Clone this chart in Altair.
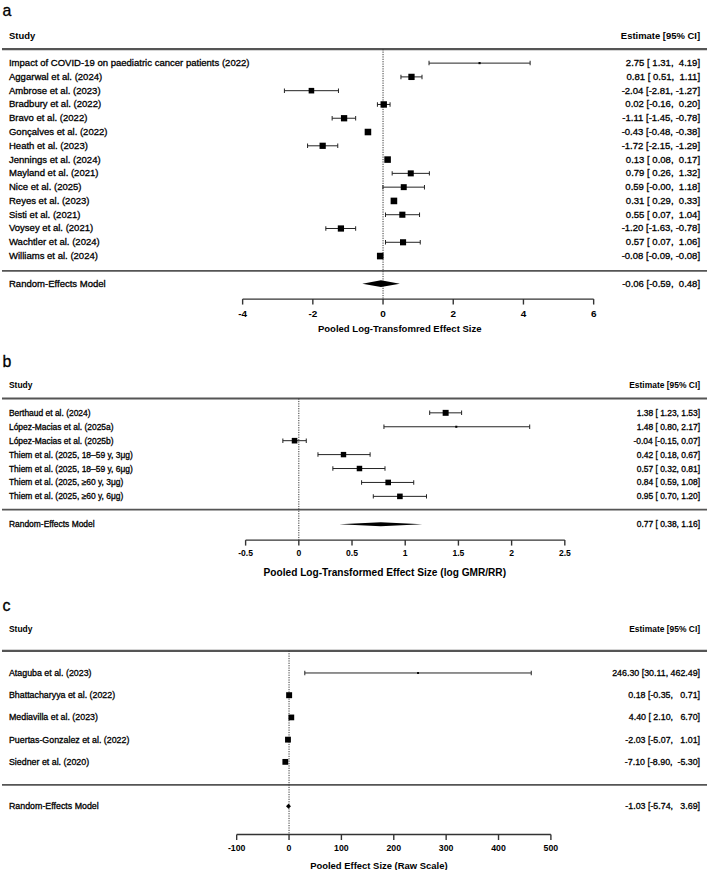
import altair as alt
import pandas as pd

FONT = "Liberation Sans"
INK = "#000000"
LINE = "#555555"
W = 709

# ---------------- panel a ----------------
a_names = [
    "Impact of COVID-19 on paediatric cancer patients (2022)",
    "Aggarwal et al. (2024)",
    "Ambrose et al. (2023)",
    "Bradbury et al. (2022)",
    "Bravo et al. (2022)",
    "Gonçalves et al. (2022)",
    "Heath et al. (2023)",
    "Jennings et al. (2024)",
    "Mayland et al. (2021)",
    "Nice et al. (2025)",
    "Reyes et al. (2023)",
    "Sisti et al. (2021)",
    "Voysey et al. (2021)",
    "Wachtler et al. (2024)",
    "Williams et al. (2024)",
]
a_est = [2.75, 0.81, -2.04, 0.02, -1.11, -0.43, -1.72, 0.13, 0.79, 0.59, 0.31, 0.55, -1.20, 0.57, -0.08]
a_lo = [1.31, 0.51, -2.81, -0.16, -1.45, -0.48, -2.15, 0.08, 0.26, -0.004, 0.29, 0.07, -1.63, 0.07, -0.09]
a_hi = [4.19, 1.11, -1.27, 0.20, -0.78, -0.38, -1.29, 0.17, 1.32, 1.18, 0.33, 1.04, -0.78, 1.06, -0.08]
a_weight = [0.8, 7.0, 5.5, 7.3, 7.0, 7.6, 6.9, 7.6, 6.4, 6.3, 7.7, 6.6, 6.9, 6.6, 7.7]
a_pooled = [-0.06, -0.59, 0.48]
a_ticks = [-4, -2, 0, 2, 4, 6]
a_tick_text = ["-4", "-2", "0", "2", "4", "6"]
a_xlab = "Pooled Log-Transfomred Effect Size"

# ---------------- panel b ----------------
b_names = [
    "Berthaud et al. (2024)",
    "López-Macias et al. (2025a)",
    "López-Macias et al. (2025b)",
    "Thiem et al. (2025, 18–59 y, 3μg)",
    "Thiem et al. (2025, 18–59 y, 6μg)",
    "Thiem et al. (2025, ≥60 y, 3μg)",
    "Thiem et al. (2025, ≥60 y, 6μg)",
]
b_est = [1.38, 1.48, -0.04, 0.42, 0.57, 0.84, 0.95]
b_lo = [1.23, 0.80, -0.15, 0.18, 0.32, 0.59, 0.70]
b_hi = [1.53, 2.17, 0.07, 0.67, 0.81, 1.08, 1.20]
b_weight = [16.5, 2.0, 14.5, 13.5, 14.0, 14.5, 14.5]
b_pooled = [0.77, 0.38, 1.16]
b_ticks = [-0.5, 0, 0.5, 1, 1.5, 2, 2.5]
b_tick_text = ["-0.5", "0", "0.5", "1", "1.5", "2", "2.5"]
b_xlab = "Pooled Log-Transformed Effect Size (log GMR/RR)"

# ---------------- panel c ----------------
c_names = [
    "Ataguba et al. (2023)",
    "Bhattacharyya et al. (2022)",
    "Mediavilla et al. (2023)",
    "Puertas-Gonzalez et al. (2022)",
    "Siedner et al. (2020)",
]
c_est = [246.30, 0.18, 4.40, -2.03, -7.10]
c_lo = [30.11, -0.35, 2.10, -5.07, -8.90]
c_hi = [462.49, 0.71, 6.70, 1.01, -5.30]
c_weight = [2.5, 26.0, 24.0, 25.0, 24.7]
c_pooled = [-1.03, -5.74, 3.69]
c_ticks = [-100, 0, 100, 200, 300, 400, 500]
c_tick_text = ["-100", "0", "100", "200", "300", "400", "500"]
c_xlab = "Pooled Effect Size (Raw Scale)"


def ci_labels(est, lo, hi):
    """Estimate [lower, upper] strings with padded bound columns."""
    wl = max(len(f"{v:.2f}") for v in lo)
    wh = max(len(f"{v:.2f}") for v in hi)
    out = []
    for e, l, h in zip(est, lo, hi):
        s = f"{e:.2f} [{l:>{wl}.2f}, {h:>{wh}.2f}]"
        out.append(s.replace(" ", "\u00a0"))
    return out


def one_row():
    return pd.DataFrame({"k": [0]})


def panel(tag, names, est, lo, hi, weight, pooled, ticks, tick_text, xlab, L):
    n = len(names)
    xs = alt.Scale(domain=[ticks[0], ticks[-1]], range=L["xr"], nice=False, zero=False)
    ys = alt.Scale(domain=[0, n - 1],
                   range=[L["row0"], L["row0"] + (n - 1) * L["step"]],
                   nice=False, zero=False)
    Y = alt.Y("row:Q", scale=ys, axis=None)

    all_est = est + [pooled[0]]
    all_lo = lo + [pooled[1]]
    all_hi = hi + [pooled[2]]
    labels = ci_labels(all_est, all_lo, all_hi)

    studies = pd.DataFrame({"name": names, "est": est, "lo": lo, "hi": hi,
                            "w": weight, "row": list(range(n))})
    text_rows = pd.DataFrame({"name": names + ["Random-Effects Model"],
                              "label": labels,
                              "row": list(range(n)) + [n + 1]})

    plain = dict(font=FONT, color=INK, stroke=INK, strokeWidth=0.3)
    bold = dict(font=FONT, color=INK, fontWeight="bold")

    layers = []
    # panel letter and column headers
    layers.append(alt.Chart(one_row()).mark_text(
        text=tag, fontSize=16, align="left", baseline="alphabetic", **plain
    ).encode(x=alt.value(0.5), y=alt.value(L["tag_y"])))
    layers.append(alt.Chart(one_row()).mark_text(
        text="Study", fontSize=L["hfs"], align="left", baseline="middle", **bold
    ).encode(x=alt.value(7), y=alt.value(L["head_y"])))
    layers.append(alt.Chart(one_row()).mark_text(
        text="Estimate [95% CI]", fontSize=L["hfs"], align="right", baseline="middle", **bold
    ).encode(x=alt.value(702), y=alt.value(L["head_y"])))

    # horizontal separators
    for yy, sw in ((L["top_line"], 2.2), (L["sep"], 1.8)):
        layers.append(alt.Chart(one_row()).mark_rule(color=LINE, strokeWidth=sw).encode(
            x=alt.value(0), x2=alt.value(W), y=alt.value(yy)))

    # reference line at zero
    layers.append(alt.Chart(pd.DataFrame({"v": [0]})).mark_rule(
        color="#333333", strokeWidth=1, strokeDash=[1.2, 1.2]
    ).encode(x=alt.X("v:Q", scale=xs, axis=None),
             y=alt.value(L["top_line"]), y2=alt.value(L["axis"])))

    # confidence intervals with end caps
    base = alt.Chart(studies)
    layers.append(base.mark_rule(color="#222222", strokeWidth=1).encode(
        x=alt.X("lo:Q", scale=xs, axis=None), x2="hi:Q", y=Y))
    for f in ("lo", "hi"):
        layers.append(base.mark_tick(orient="vertical", size=4.5, thickness=1,
                                     color="#222222", opacity=1).encode(
            x=alt.X(f"{f}:Q", scale=xs, axis=None), y=Y))

    # study estimates, square area follows the weight
    layers.append(base.mark_square(color=INK, opacity=1).encode(
        x=alt.X("est:Q", scale=xs, axis=None), y=Y,
        size=alt.Size("w:Q", scale=alt.Scale(domain=[0, max(weight)], range=[0, L["smax"]]),
                      legend=None)))

    # pooled estimate diamond
    h = L["dh"] / L["step"]
    r = n + 1
    diamond = pd.DataFrame({"x": [pooled[1], pooled[0], pooled[2]],
                            "y1": [r, r - h, r], "y2": [r, r + h, r]})
    layers.append(alt.Chart(diamond).mark_area(color=INK, opacity=1, interpolate="linear").encode(
        x=alt.X("x:Q", scale=xs, axis=None),
        y=alt.Y("y1:Q", scale=ys, axis=None), y2="y2:Q"))

    # row labels and estimate column
    tr = alt.Chart(text_rows)
    layers.append(tr.mark_text(fontSize=L["fs"], align="left", baseline="middle",
                               **plain).encode(x=alt.value(7), y=Y, text="name:N"))
    layers.append(tr.mark_text(fontSize=L["fs"], align="right", baseline="middle",
                               **plain).encode(x=alt.value(702), y=Y, text="label:N"))

    # x axis drawn as a rule with downward ticks
    layers.append(alt.Chart(pd.DataFrame({"a": [ticks[0]], "b": [ticks[-1]]})).mark_rule(
        color="#333333", strokeWidth=1.4).encode(
        x=alt.X("a:Q", scale=xs, axis=None), x2="b:Q", y=alt.value(L["axis"])))
    tdf = pd.DataFrame({"t": ticks, "s": tick_text})
    layers.append(alt.Chart(tdf).mark_rule(color="#333333", strokeWidth=1.4).encode(
        x=alt.X("t:Q", scale=xs, axis=None), y=alt.value(L["axis"]),
        y2=alt.value(L["axis"] + 5.5)))
    layers.append(alt.Chart(tdf).mark_text(fontSize=L["tfs"], align="center",
                                           baseline="middle", **bold).encode(
        x=alt.X("t:Q", scale=xs, axis=None), y=alt.value(L["ticklab"]), text="s:N"))
    layers.append(alt.Chart(one_row()).mark_text(
        text=xlab, fontSize=L["xfs"], align="center", baseline="middle", **bold
    ).encode(x=alt.value(L["xlab_x"]), y=alt.value(L["xlab_y"])))

    return alt.layer(*layers).properties(width=W, height=L["height"])


LA = dict(height=340, tag_y=8.5, head_y=28.3, top_line=42, row0=56, step=13.86, sep=265,
          axis=293.3, ticklab=308.5, xlab_x=400, xlab_y=323.5, xr=[242, 595],
          fs=9.6, hfs=9.5, tfs=10, xfs=9.6, smax=44, dh=3.5)
LB = dict(height=245, tag_y=22, head_y=40, top_line=53.3, row0=67.7, step=14.0, sep=165,
          axis=195.7, ticklab=209, xlab_x=385, xlab_y=229, xr=[245, 566],
          fs=8.5, hfs=8.5, tfs=8.6, xfs=10.2, smax=36, dh=2.0)
LC = dict(height=285, tag_y=22, head_y=40, top_line=62, row0=84.3, step=22.35, sep=196.8,
          axis=246.8, ticklab=260.4, xlab_x=379, xlab_y=278, xr=[236, 552],
          fs=8.9, hfs=8.5, tfs=8.8, xfs=9.5, smax=36, dh=2.5)

pa = panel("a", a_names, a_est, a_lo, a_hi, a_weight, a_pooled, a_ticks, a_tick_text, a_xlab, LA)
pb = panel("b", b_names, b_est, b_lo, b_hi, b_weight, b_pooled, b_ticks, b_tick_text, b_xlab, LB)
pc = panel("c", c_names, c_est, c_lo, c_hi, c_weight, c_pooled, c_ticks, c_tick_text, c_xlab, LC)

chart = alt.vconcat(pa, pb, pc, spacing=0, bounds="flush").resolve_scale(
    x="independent", y="independent", size="independent"
).properties(padding=0, background="white").configure_view(stroke=None)

chart.save("out.html", embed_options={"renderer": "svg", "actions": False})
